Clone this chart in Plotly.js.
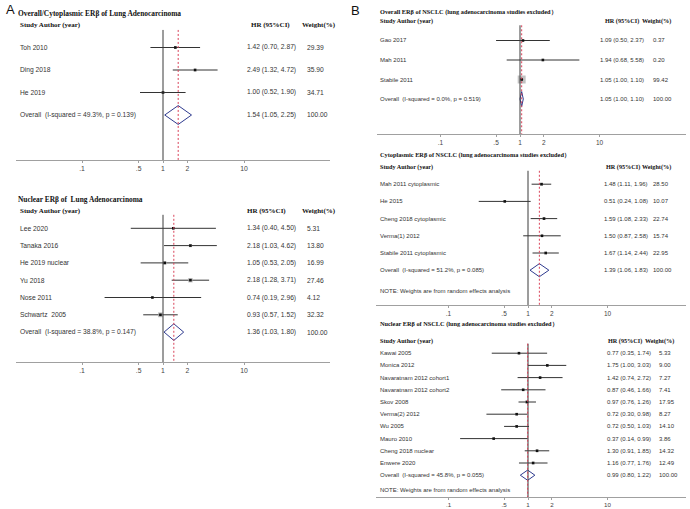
<!DOCTYPE html>
<html><head><meta charset="utf-8">
<script src="https://cdn.plot.ly/plotly-3.0.1.min.js"></script>
<style>html,body{margin:0;padding:0;background:#fff}</style>
</head><body><div id="chart" style="width:690px;height:509px"></div>
<script>
// ================= DATA =================
// Panel A (top): Overall/Cytoplasmic ERβ of Lung Adenocarcinoma
const a1Title = "Overall/Cytoplasmic ERβ of Lung Adenocarcinoma";
const a1Studies = ["Toh 2010", "Ding 2018", "He 2019"];
const a1HR = [1.42, 2.49, 1.00];
const a1Lo = [0.70, 1.32, 0.52];
const a1Hi = [2.87, 4.72, 1.90];
const a1W  = [29.39, 35.90, 34.71];
const a1Overall = [1.54, 1.05, 2.25];
const a1Het = [49.3, 0.139];

// Panel A (bottom): Nuclear ERβ of Lung Adenocarcinoma
const a2Title = "Nuclear ERβ of  Lung Adenocarcinoma";
const a2Studies = ["Lee 2020", "Tanaka 2016", "He 2019 nuclear", "Yu 2018", "Nose 2011", "Schwartz  2005"];
const a2HR = [1.34, 2.18, 1.05, 2.18, 0.74, 0.93];
const a2Lo = [0.40, 1.03, 0.53, 1.28, 0.19, 0.57];
const a2Hi = [4.50, 4.62, 2.05, 3.71, 2.96, 1.52];
const a2W  = [5.31, 13.80, 16.99, 27.46, 4.12, 32.32];
const a2Overall = [1.36, 1.03, 1.80];
const a2Het = [38.8, 0.147];

// Panel B (top): Overall ERβ of NSCLC
const b1Title = "Overall ERβ of NSCLC (lung adenocarcinoma studies excluded）";
const b1Studies = ["Gao 2017", "Mah 2011", "Stabile 2011"];
const b1HR = [1.09, 1.94, 1.05];
const b1Lo = [0.50, 0.68, 1.00];
const b1Hi = [2.37, 5.58, 1.10];
const b1W  = [0.37, 0.20, 99.42];
const b1Overall = [1.05, 1.00, 1.10];
const b1Het = [0.0, 0.519];

// Panel B (middle): Cytoplasmic ERβ of NSCLC
const b2Title = "Cytoplasmic ERβ of NSCLC (lung adenocarcinoma studies excluded）";
const b2Studies = ["Mah 2011 cytoplasmic", "He 2015", "Cheng 2018 cytoplasmic", "Verma(1) 2012", "Stabile 2011 cytoplasmic"];
const b2HR = [1.48, 0.51, 1.59, 1.50, 1.67];
const b2Lo = [1.11, 0.24, 1.08, 0.87, 1.14];
const b2Hi = [1.96, 1.08, 2.33, 2.58, 2.44];
const b2W  = [28.50, 10.07, 22.74, 15.74, 22.95];
const b2Overall = [1.39, 1.06, 1.83];
const b2Het = [51.2, 0.085];

// Panel B (bottom): Nuclear ERβ of NSCLC
const b3Title = "Nuclear ERβ of NSCLC (lung adenocarcinoma studies excluded）";
const b3Studies = ["Kawai 2005", "Monica 2012", "Navaratnam 2012 cohort1", "Navaratnam 2012 cohort2", "Skov 2008",
  "Verma(2) 2012", "Wu 2005", "Mauro 2010", "Cheng 2018 nuclear", "Enwere 2020"];
const b3HR = [0.77, 1.75, 1.42, 0.87, 0.97, 0.72, 0.72, 0.37, 1.30, 1.16];
const b3Lo = [0.35, 1.00, 0.74, 0.46, 0.76, 0.30, 0.50, 0.14, 0.91, 0.77];
const b3Hi = [1.74, 3.03, 2.72, 1.66, 1.26, 0.98, 1.03, 0.99, 1.85, 1.76];
const b3W  = [5.33, 9.00, 7.27, 7.41, 17.95, 8.27, 14.10, 3.86, 14.32, 12.49];
const b3Overall = [0.99, 0.80, 1.22];
const b3Het = [45.8, 0.055];

const tickVals = [0.1, 0.5, 1, 2, 10];
const tickText = [".1", ".5", "1", "2", "10"];
const noteText = "NOTE: Weights are from random effects analysis";

// ================= LAYOUT / STYLE =================
const W = 690, H = 509;
const SANS = "Liberation Sans Narrow, Arial Narrow, Liberation Sans, Arial, sans-serif";
const SERIF = "Liberation Serif, Times New Roman, serif";

const panels = [
  {t:a1Title, s:a1Studies, hr:a1HR, lo:a1Lo, hi:a1Hi, w:a1W, ov:a1Overall, het:a1Het, note:false,
   g:{left:16,right:330,one:163,dec:81, titleY:13, header:25, sp:22.5, axis:160, top:6,
      titleX:16, nameX:18, hrX:245, wX:305, hrHX:249, wHX:300, box:0.45, dh:0.42, fs:6.7, tfs:7.4, hfs:7.0, kfs:6.8}},
  {t:a2Title, s:a2Studies, hr:a2HR, lo:a2Lo, hi:a2Hi, w:a2W, ov:a2Overall, het:a2Het, note:false,
   g:{left:16,right:330,one:163,dec:81, titleY:199, header:211, sp:17.3, axis:362, top:190,
      titleX:16, nameX:18, hrX:245, wX:305, hrHX:245, wHX:300, box:0.85, dh:0.48, fs:6.7, tfs:7.4, hfs:7.0, kfs:6.8}},
  {t:b1Title, s:b1Studies, hr:b1HR, lo:b1Lo, hi:b1Hi, w:b1W, ov:b1Overall, het:b1Het, note:false,
   g:{left:377,right:686,one:520,dec:79.5, titleY:12, header:21, sp:19.5, axis:134, top:5,
      titleX:378, nameX:378, hrX:598, wX:651, hrHX:603, wHX:640, box:0.8, dh:0.38, fs:6.0, tfs:6.3, hfs:6.2, kfs:6.5}},
  {t:b2Title, s:b2Studies, hr:b2HR, lo:b2Lo, hi:b2Hi, w:b2W, ov:b2Overall, het:b2Het, note:true,
   g:{left:376,right:686,one:528,dec:79.5, titleY:155, header:167, sp:17.2, axis:305, top:146,
      titleX:378, nameX:378, hrX:602, wX:651, hrHX:604, wHX:640, box:0.55, dh:0.38, fs:6.0, tfs:6.3, hfs:6.2, kfs:6.5}},
  {t:b3Title, s:b3Studies, hr:b3HR, lo:b3Lo, hi:b3Hi, w:b3W, ov:b3Overall, het:b3Het, note:true,
   g:{left:376,right:686,one:528,dec:79.5, titleY:324, header:341, sp:12.2, axis:497, top:315,
      titleX:378, nameX:378, hrX:605, wX:657, hrHX:606, wHX:643, box:0.7, dh:0.42, fs:6.0, tfs:6.3, hfs:6.2, kfs:6.2}}
];

const traces = [];
const annotations = [];
const shapes = [];
const layout = {
  width: W, height: H, margin: {l:0, r:0, t:0, b:0},
  paper_bgcolor: "#fff", plot_bgcolor: "#fff", showlegend: false,
  font: {family: SANS, color: "#333"}
};

const f2 = v => v.toFixed(2);
const ciText = (h, l, u) => f2(h) + " (" + f2(l) + ", " + f2(u) + ")";

panels.forEach((p, i) => {
  const g = p.g;
  const sfx = i === 0 ? "" : String(i + 1);
  const xa = "x" + sfx, ya = "y" + sfx;
  const n = p.s.length;
  const yMax = (g.axis - g.header) / g.sp;
  const yMin = (g.top - g.header) / g.sp;

  layout["xaxis" + sfx] = {
    type: "log", domain: [g.left / W, g.right / W],
    range: [(g.left - g.one) / g.dec, (g.right - g.one) / g.dec],
    anchor: ya, showgrid: false, zeroline: false, showline: true, linecolor: "#a0a0a0", linewidth: 1,
    ticks: "outside", ticklen: 2, tickcolor: "#a0a0a0", tickvals: tickVals, ticktext: tickText,
    tickfont: {family: SANS, size: g.kfs, color: "#444"}, fixedrange: true
  };
  layout["yaxis" + sfx] = {
    domain: [1 - g.axis / H, 1 - g.top / H], range: [yMax, yMin], anchor: xa,
    visible: false, showgrid: false, zeroline: false, fixedrange: true
  };

  const rows = p.s.map((_, k) => k + 1);
  const ovRow = n + 1;

  // null line & overall dashed line
  shapes.push({type: "line", xref: xa, yref: ya, x0: 1, x1: 1, y0: 0.22, y1: yMax,
    line: {color: "#3a3a3a", width: 1}});
  shapes.push({type: "line", xref: xa, yref: ya, x0: p.ov[0], x1: p.ov[0], y0: 0.22, y1: yMax,
    line: {color: "#d9435a", width: 1, dash: "2px,2px"}});

  // CI lines
  const lx = [], ly = [];
  p.s.forEach((_, k) => { lx.push(p.lo[k], p.hi[k], null); ly.push(rows[k], rows[k], null); });
  traces.push({type: "scatter", mode: "lines", x: lx, y: ly, xaxis: xa, yaxis: ya,
    line: {color: "#333", width: 1}, hoverinfo: "skip"});
  // weight boxes
  traces.push({type: "scatter", mode: "markers", x: p.hr, y: rows, xaxis: xa, yaxis: ya,
    marker: {symbol: "square", color: "#a6a6a6", size: p.w.map(v => g.box * Math.sqrt(v)), line: {width: 0}},
    hoverinfo: "skip", cliponaxis: false});
  // point estimates
  traces.push({type: "scatter", mode: "markers", x: p.hr, y: rows, xaxis: xa, yaxis: ya,
    marker: {symbol: "square", color: "#111", size: 2.6}, hoverinfo: "skip", cliponaxis: false});
  // overall diamond
  traces.push({type: "scatter", mode: "lines", xaxis: xa, yaxis: ya,
    x: [p.ov[1], p.ov[0], p.ov[2], p.ov[0], p.ov[1]],
    y: [ovRow, ovRow - g.dh, ovRow, ovRow + g.dh, ovRow],
    fill: "toself", fillcolor: "#fff", line: {color: "#2f3b8f", width: 1}, hoverinfo: "skip"});

  // title
  annotations.push({xref: "paper", yref: "paper", x: g.titleX / W, y: 1 - g.titleY / H,
    xanchor: "left", yanchor: "middle", showarrow: false, text: "<b>" + p.t + "</b>",
    font: {family: SERIF, size: g.tfs, color: "#111"}});
  // header
  const hdr = (x, t) => annotations.push({xref: "paper", yref: ya, x: x / W, y: 0, xanchor: "left",
    yanchor: "middle", showarrow: false, text: "<b>" + t + "</b>", font: {family: SERIF, size: g.hfs, color: "#111"}});
  hdr(g.nameX, "Study Author (year)");
  hdr(g.hrHX, "HR (95%CI)");
  hdr(g.wHX, "Weight(%)");

  const txt = (x, y, t) => annotations.push({xref: "paper", yref: ya, x: x / W, y: y, xanchor: "left",
    yanchor: "middle", showarrow: false, text: t, font: {family: SANS, size: g.fs, color: "#333"}});
  p.s.forEach((name, k) => {
    txt(g.nameX, rows[k], name);
    txt(g.hrX, rows[k], ciText(p.hr[k], p.lo[k], p.hi[k]));
    txt(g.wX, rows[k], f2(p.w[k]));
  });
  txt(g.nameX, ovRow, "Overall  (I-squared = " + p.het[0].toFixed(1) + "%, p = " + p.het[1].toFixed(3) + ")");
  txt(g.hrX, ovRow, ciText(p.ov[0], p.ov[1], p.ov[2]));
  txt(g.wX, ovRow, "100.00");
  if (p.note) txt(g.nameX, ovRow + 1.2, noteText);
});

// panel letters
annotations.push({xref: "paper", yref: "paper", x: 4 / W, y: 1 - 10 / H, xanchor: "left", yanchor: "middle",
  showarrow: false, text: "A", font: {family: "Liberation Sans, Arial, sans-serif", size: 13, color: "#111"}});
annotations.push({xref: "paper", yref: "paper", x: 349 / W, y: 1 - 11 / H, xanchor: "left", yanchor: "middle",
  showarrow: false, text: "B", font: {family: "Liberation Sans, Arial, sans-serif", size: 13, color: "#111"}});

layout.annotations = annotations;
layout.shapes = shapes;

Plotly.newPlot("chart", traces, layout, {displayModeBar: false, staticPlot: true});
</script></body></html>
